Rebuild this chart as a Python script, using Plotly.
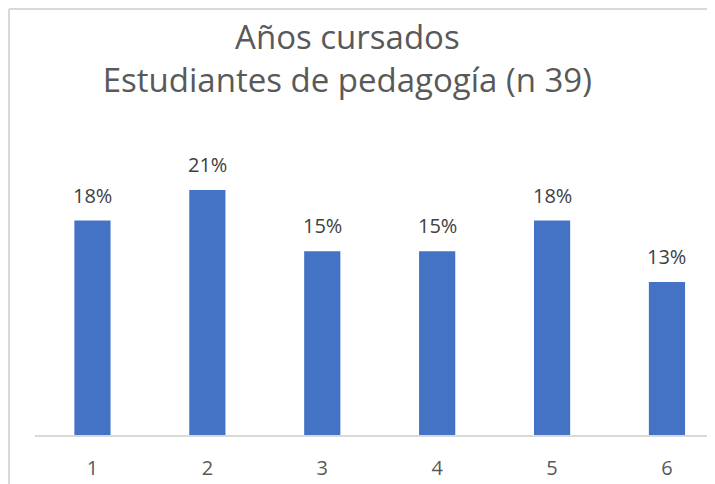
import plotly.graph_objects as go

categories = ["1", "2", "3", "4", "5", "6"]
percentages = [17.95, 20.51, 15.38, 15.38, 17.95, 12.82]
labels = [f"{round(v)}%" for v in percentages]
title_lines = ["Años cursados", "Estudiantes de pedagogía (n 39)"]

x_pos = list(range(1, len(categories) + 1))
FONT = "Open Sans"

W, H = 707, 476  # page body has an 8px default margin
L, T, B = 27, 132, 49
PW, PH = W - L, H - T - B

fig = go.Figure()
fig.add_trace(go.Bar(
    x=x_pos, y=percentages, width=0.315,
    marker=dict(color="#4472C4", line=dict(width=0)),
    hoverinfo="skip",
))
for xv, yv, lab in zip(x_pos, percentages, labels):
    fig.add_annotation(x=xv, y=yv, text=lab, showarrow=False, yanchor="bottom",
                       yshift=10, font=dict(family=FONT, size=20, color="#404040"))

bx = (1 - L) / PW
by = 1 + (T - 1) / PH

fig.update_layout(
    width=W, height=H,
    margin=dict(l=L, r=0, t=T, b=B),
    paper_bgcolor="white", plot_bgcolor="white",
    showlegend=False,
    title=dict(text="<br>".join(title_lines), x=0.480, xanchor="center",
               yref="container", y=1 - 41 / H, yanchor="top",
               font=dict(family=FONT, size=33, color="#595959")),
    xaxis=dict(range=[0.5, 6.418], tickvals=x_pos, ticktext=categories,
               showgrid=False, zeroline=False, showline=True,
               linecolor="#d9d9d9", linewidth=2,
               ticks="outside", ticklen=14, tickcolor="rgba(0,0,0,0)",
               tickfont=dict(family=FONT, size=20, color="#595959")),
    yaxis=dict(range=[0, 24.7], visible=False),
    shapes=[
        dict(type="line", xref="paper", yref="paper", x0=bx, x1=bx,
             y0=by, y1=-0.3, line=dict(color="#d9d9d9", width=2)),
        dict(type="line", xref="paper", yref="paper", x0=bx, x1=1.1,
             y0=by, y1=by, line=dict(color="#d9d9d9", width=2)),
    ],
)
fig.write_html("out.html")
